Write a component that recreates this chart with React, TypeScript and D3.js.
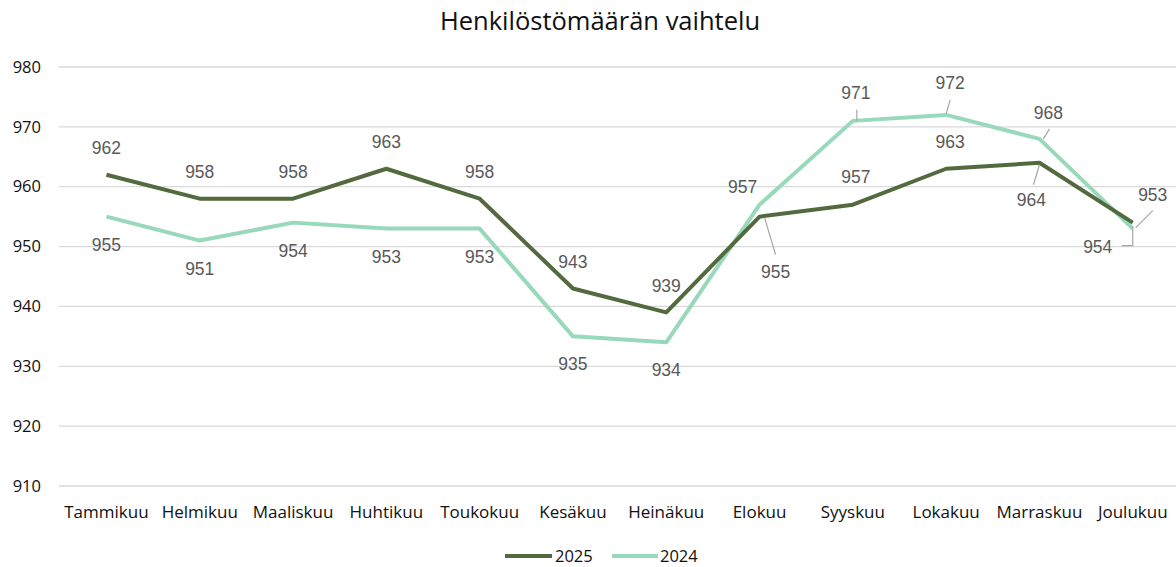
import React from "react";
import * as d3 from "d3";

const months = ["Tammikuu","Helmikuu","Maaliskuu","Huhtikuu","Toukokuu","Kesäkuu","Heinäkuu","Elokuu","Syyskuu","Lokakuu","Marraskuu","Joulukuu"];
const values2025 = [962, 958, 958, 963, 958, 943, 939, 955, 957, 963, 964, 954];
const values2024 = [955, 951, 954, 953, 953, 935, 934, 957, 971, 972, 968, 953];
const yTicks = [910, 920, 930, 940, 950, 960, 970, 980];
const seriesNames = ["2025", "2024"];

// label placement (offset of label centre from point, optional leader)
type LP = { dx: number; dy: number; leader?: [number, number][] };
const place2025: LP[] = months.map(() => ({ dx: 0, dy: -27 }));
place2025[7] = { dx: 16, dy: 55, leader: [[5, 1], [16, 38]] };
place2025[8] = { dx: 3, dy: -28 };
place2025[9] = { dx: 4, dy: -27 };
place2025[10] = { dx: -8, dy: 37, leader: [[0, 2], [-6, 22]] };
place2025[11] = { dx: -35, dy: 24, leader: [[0, 4], [0, 23], [-11, 23]] };
const place2024: LP[] = months.map(() => ({ dx: 0, dy: 28 }));
place2024[7] = { dx: -17, dy: -18 };
place2024[8] = { dx: 3, dy: -28, leader: [[4, 0], [4, -11]] };
place2024[9] = { dx: 4, dy: -32, leader: [[0, -1], [4, -15]] };
place2024[10] = { dx: 9, dy: -26, leader: [[4, 0], [10, -10]] };
place2024[11] = { dx: 20, dy: -34, leader: [[3, -1], [20, -18]] };

const W = 1176, H = 567;
const C2025 = "#536a3f";
const C2024 = "#98d8bb";

export default function App() {
  const x = d3.scaleBand<string>().domain(months).range([59.8, 59.8 + 12 * 93.3]).padding(0);
  const cx = (m: string) => (x(m) as number) + x.bandwidth() / 2;
  const y = d3.scaleLinear().domain([910, 980]).range([486, 67]);
  const line = d3.line<number>().x((_, i) => cx(months[i])).y((v) => y(v));

  const series = [
    { name: seriesNames[0], vals: values2025, color: C2025, place: place2025 },
    { name: seriesNames[1], vals: values2024, color: C2024, place: place2024 },
  ];

  return (
    <svg width={W} height={H} style={{ display: "block", position: "absolute", left: 0, top: 0 }}>
      <rect x={0} y={0} width={W} height={H} fill="#fff" />
      <text x={600} y={30} textAnchor="middle" fontFamily="Open Sans" fontSize={25.5} fill="#111">Henkilöstömäärän vaihtelu</text>
      {yTicks.map((t) => (
        <g key={t}>
          <line x1={59} x2={W} y1={y(t)} y2={y(t)} stroke="#d9d9d9" strokeWidth={1.3} />
          <text x={41} y={y(t)} dy="0.35em" textAnchor="end" fontFamily="Open Sans" fontSize={16.5} fill="#111">{t}</text>
        </g>
      ))}
      {months.map((m) => (
        <text key={m} x={cx(m)} y={518} textAnchor="middle" fontFamily="Open Sans" fontSize={17} fill="#111">{m}</text>
      ))}
      {[...series].reverse().map((s) => (
        <path key={s.name} d={line(s.vals) as string} fill="none" stroke={s.color} strokeWidth={4} strokeLinejoin="round" />
      ))}
      {series.map((s) => (
        <g key={s.name + "l"}>
          {s.vals.map((v, i) => {
            const px = cx(months[i]);
            const py = y(v);
            const p = s.place[i];
            return (
              <g key={i}>
                {p.leader && (
                  <polyline points={p.leader.map(([a, b]) => `${px + a},${py + b}`).join(" ")} fill="none" stroke="#a6a6a6" strokeWidth={1.2} />
                )}
                <text x={px + p.dx} y={py + p.dy} dy="0.35em" textAnchor="middle" fontFamily="Liberation Sans" fontSize={17.5} fill="#595959">{v}</text>
              </g>
            );
          })}
        </g>
      ))}
      <g>
        <line x1={505} x2={552} y1={556} y2={556} stroke={C2025} strokeWidth={4} />
        <text x={555} y={556} dy="0.35em" fontFamily="Open Sans" fontSize={16.5} fill="#111">{seriesNames[0]}</text>
        <line x1={612} x2={658} y1={556} y2={556} stroke={C2024} strokeWidth={4} />
        <text x={660} y={556} dy="0.35em" fontFamily="Open Sans" fontSize={16.5} fill="#111">{seriesNames[1]}</text>
      </g>
    </svg>
  );
}
